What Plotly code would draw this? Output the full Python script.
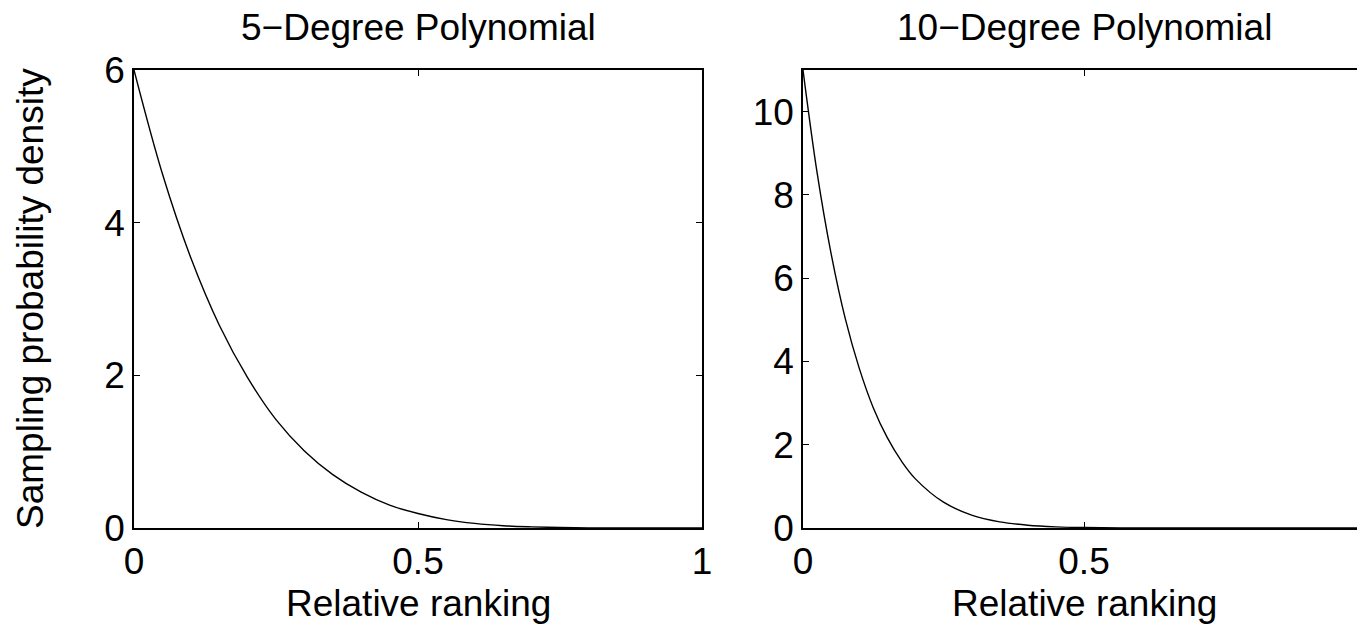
import plotly.graph_objects as go

# Values
x5 = [0.0, 0.05, 0.1, 0.15, 0.2, 0.25, 0.3, 0.35, 0.4, 0.45, 0.5, 0.55, 0.6, 0.65, 0.7, 0.75, 0.8, 0.85, 0.9, 0.95, 1.0]
y5 = [6.0, 4.64, 3.54, 2.66, 1.97, 1.42, 1.01, 0.70, 0.47, 0.30, 0.19, 0.11, 0.06, 0.03, 0.015, 0.006, 0.002, 0.0005, 0.0001, 0.0, 0.0]

x10 = [0.0, 0.025, 0.05, 0.075, 0.1, 0.125, 0.15, 0.175, 0.2, 0.25, 0.3, 0.35, 0.4, 0.45, 0.5, 0.6, 0.7, 0.8, 0.9, 1.0]
y10 = [11.0, 8.54, 6.59, 5.04, 3.84, 2.89, 2.17, 1.61, 1.18, 0.62, 0.31, 0.148, 0.067, 0.028, 0.011, 0.001, 0.0, 0.0, 0.0, 0.0]

titles = ["5\u2212Degree Polynomial", "10\u2212Degree Polynomial"]
x_title = "Relative ranking"
y_title = "Sampling probability density"
x_ticks = [0, 0.5, 1]
x_ticklabels = ["0", "0.5", "1"]
y5_ticks = [0, 2, 4, 6]
y10_ticks = [0, 2, 4, 6, 8, 10]

FONT = "Liberation Sans, Arial, Helvetica, sans-serif"
FS = 37

fig = go.Figure()
fig.add_trace(go.Scatter(x=x5, y=y5, mode="lines", line=dict(color="black", width=1.4, shape="spline"),
                         xaxis="x", yaxis="y", showlegend=False))
fig.add_trace(go.Scatter(x=x10, y=y10, mode="lines", line=dict(color="black", width=1.4, shape="spline"),
                         xaxis="x2", yaxis="y2", showlegend=False))

axis_common = dict(showline=True, linecolor="black", linewidth=1.5, mirror="ticks",
                   ticks="inside", ticklen=6, tickcolor="black", tickwidth=1,
                   showgrid=False, zeroline=False, automargin=False, ticklabelstandoff=0,
                   tickfont=dict(family=FONT, size=FS, color="black"))

# the page body has an 8 px margin, so the figure is 8 px smaller than the window
W, H = 1357, 619
L, T, B = 126, 62, 99
PW = W - L
d1 = (702 - 134) / PW
d2 = (803 - 134) / PW

txt = dict(family=FONT, size=FS, color="black")
fig.update_layout(
    width=W, height=H,
    margin=dict(l=L, r=0, t=T, b=B),
    paper_bgcolor="white", plot_bgcolor="white",
    font=txt,
    xaxis=dict(domain=[0, d1], range=[0, 1], tickvals=x_ticks, ticktext=x_ticklabels, **axis_common),
    yaxis=dict(domain=[0, 1], range=[0, 6], tickvals=y5_ticks, anchor="x", **axis_common),
    xaxis2=dict(domain=[d2, 1], range=[0, 1], tickvals=x_ticks[:-1], ticktext=x_ticklabels[:-1],
                anchor="y2", **axis_common),
    yaxis2=dict(domain=[0, 1], range=[0, 11], tickvals=y10_ticks, anchor="x2", **axis_common),
    annotations=[
        dict(text=titles[0], x=d1 / 2, y=1, xref="paper", yref="paper", xanchor="center", yanchor="middle",
             yshift=43, showarrow=False, font=txt),
        dict(text=titles[1], x=(d2 + 1) / 2, y=1, xref="paper", yref="paper", xanchor="center",
             yanchor="middle", yshift=43, showarrow=False, font=txt),
        dict(text=x_title, x=d1 / 2, y=0, xref="paper", yref="paper", xanchor="center", yanchor="middle",
             yshift=-75, showarrow=False, font=txt),
        dict(text=x_title, x=(d2 + 1) / 2, y=0, xref="paper", yref="paper", xanchor="center",
             yanchor="middle", yshift=-75, showarrow=False, font=txt),
        dict(text=y_title, x=0, y=0.5, xref="paper", yref="paper", xanchor="center", yanchor="middle",
             xshift=-104, textangle=-90, showarrow=False, font=txt),
        # last tick label of the right panel, partly outside the picture as in the reference
        dict(text=x_ticklabels[-1], x=x_ticks[-1], y=0, xref="x2", yref="paper", xanchor="center",
             yanchor="middle", yshift=-33, showarrow=False, font=txt),
    ],
)

fig.write_html("out.html")
